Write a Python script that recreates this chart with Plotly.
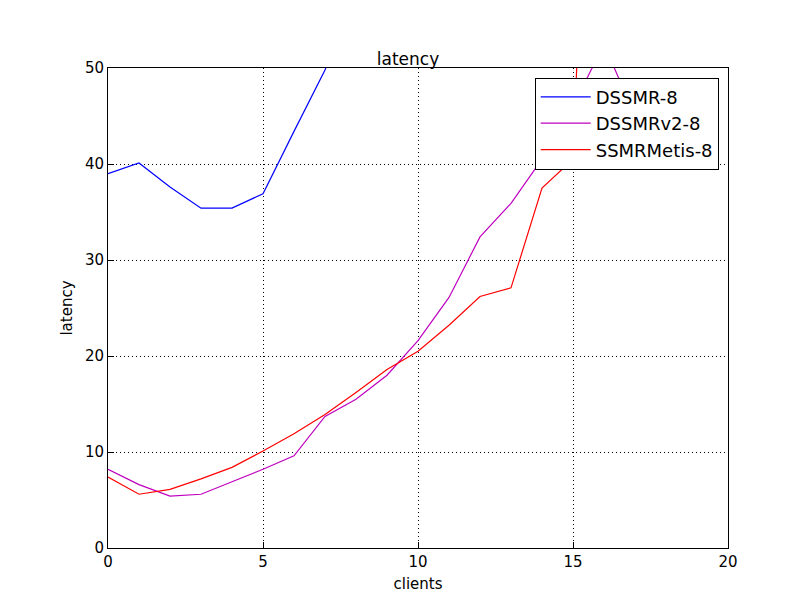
import plotly.graph_objects as go

x_dssmr = [0, 1, 2, 3, 4, 5, 6, 7, 8]
y_dssmr = [39.0, 40.1, 37.6, 35.4, 35.4, 36.9, 43.4, 49.8, 58.0]
x_v2 = list(range(0, 18))
y_v2 = [8.2, 6.6, 5.4, 5.6, 6.9, 8.2, 9.6, 13.7, 15.5, 18.0, 21.6, 26.1, 32.4, 35.9, 40.5, 46.0, 52.5, 45.0]
x_metis = list(range(0, 17))
y_metis = [7.4, 5.6, 6.1, 7.2, 8.4, 10.1, 11.9, 13.9, 16.2, 18.6, 20.5, 23.2, 26.2, 27.1, 37.5, 40.5, 120.0]

fig = go.Figure()
fig.add_trace(go.Scatter(x=x_dssmr, y=y_dssmr, mode="lines", name="DSSMR-8", line=dict(color="#0000ff", width=1.2)))
fig.add_trace(go.Scatter(x=x_v2, y=y_v2, mode="lines", name="DSSMRv2-8", line=dict(color="#bf00bf", width=1.2)))
fig.add_trace(go.Scatter(x=x_metis, y=y_metis, mode="lines", name="SSMRMetis-8", line=dict(color="#ff0000", width=1.2)))

ax = dict(showline=True, linecolor="black", mirror=True, ticks="inside", ticklen=6, tickcolor="black",
          showgrid=True, gridcolor="black", griddash="1px,3px", gridwidth=1, zeroline=False,
          automargin=False, tickfont=dict(size=15, color="black"))
fig.update_layout(
    width=800, height=600, plot_bgcolor="white", paper_bgcolor="white",
    font=dict(family="DejaVu Sans", color="black"),
    title=dict(text="latency", x=0.5, xanchor="center", y=0.905, yanchor="bottom", font=dict(size=17)),
    margin=dict(l=100, r=80, t=60, b=60, autoexpand=False),
    xaxis=dict(range=[0, 20], dtick=5, title=dict(text="clients", font=dict(size=15), standoff=8), **ax),
    yaxis=dict(range=[0, 50], dtick=10, title=dict(text="latency", font=dict(size=15), standoff=8), **ax),
    legend=dict(x=0.985, y=0.98, xanchor="right", yanchor="top", bordercolor="black", borderwidth=1,
                bgcolor="white", font=dict(size=18), itemwidth=50, tracegroupgap=2),
    showlegend=True,
)
fig.write_html("out.html")
